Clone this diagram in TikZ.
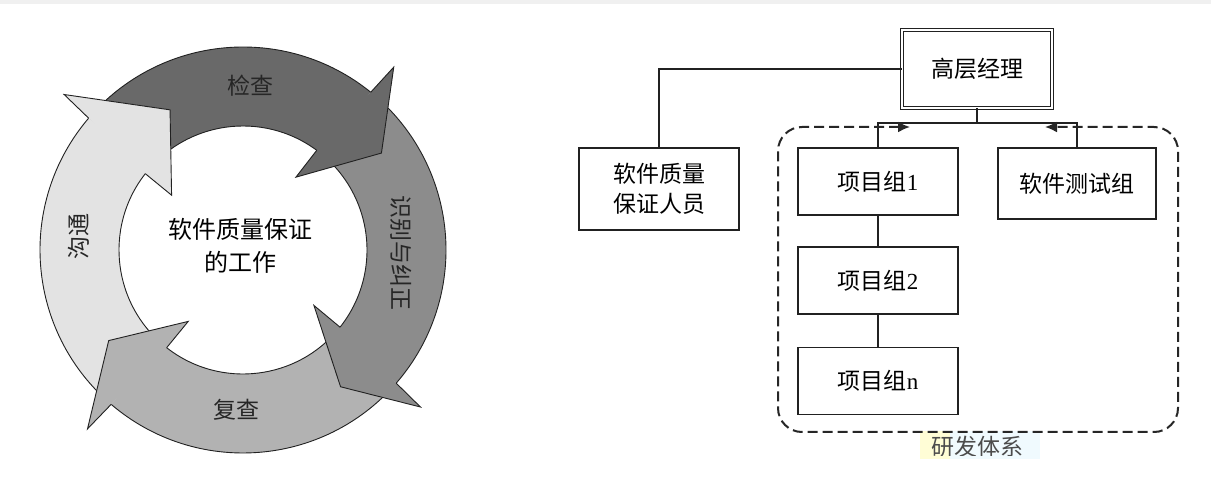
\documentclass[tikz,border=0pt]{standalone}
\usepackage{fontspec}
\setmainfont{Liberation Serif}
\newfontfamily\cjk{Noto Sans CJK SC}
\usetikzlibrary{arrows.meta}

\definecolor{arrDark}{gray}{0.41}
\definecolor{arrRight}{gray}{0.55}
\definecolor{arrBottom}{gray}{0.70}
\definecolor{arrLight}{gray}{0.89}
\definecolor{edge}{gray}{0.13}
\newcommand{\boxnum}[1]{{\rmfamily #1}}

\begin{document}
\begin{tikzpicture}[x=1pt,y=1pt,
  outline/.style={draw=edge, line width=0.9pt, line join=miter},
  box/.style={draw=edge, line width=1.1pt, fill=white, minimum width=160pt,
    minimum height=67pt, align=center, inner sep=0pt,
    font=\fontsize{23}{30}\selectfont\cjk},
  wire/.style={draw=edge, line width=1.1pt},
  lbl/.style={font=\fontsize{23}{26}\selectfont\cjk, text=black!85, inner sep=0pt},
  frame/.style={draw=black!85, line width=2pt, dash pattern=on 10pt off 5pt,
    rounded corners=24pt},
  tip/.style={{Latex[length=12pt,width=11pt]}-{Latex[length=12pt,width=11pt]}}
]
\useasboundingbox (0,0) rectangle (1211,501);
\fill[white] (0,0) rectangle (1211,501);
\fill[gray!12] (0,497) rectangle (1211,501);

% ---- cycle of four arrows ----
\begin{scope}[shift={(243,251)}]
  \def\Ro{203}
  \def\Ri{124}
  % bodies: tail angle / head angle / colour
  \foreach \s/\e/\c in {139.5/51/arrDark, 51/-41/arrRight,
                        -41/-130.5/arrBottom, -130.5/-220.5/arrLight}{
    \fill[\c] (\s:\Ro) arc[start angle=\s, end angle=\e, radius=\Ro]
      -- (\e:\Ri) arc[start angle=\e, end angle=\s, radius=\Ri] -- cycle;
  }
  \foreach \s/\e in {139.5/51, 51/-41, -41/-130.5, -130.5/-220.5}{
    \draw[outline] (\s:\Ro) arc[start angle=\s, end angle=\e, radius=\Ro];
    \draw[outline] (\s:\Ri) arc[start angle=\s, end angle=\e, radius=\Ri];
  }
  % heads: base angle / tip offset / tip radius / colour
  \foreach \a/\ta/\tr/\c in {51/-16/169/arrDark, -41/-13.5/168/arrRight,
                             -130.5/-15.5/162/arrBottom, 139.5/-22/158/arrLight}{
    \fill[\c] (\a:\Ro) -- ({\a-0.5}:237) -- ({\a+(\ta)}:\tr) -- ({\a+3}:90)
      -- ({\a+2.5}:\Ri) -- cycle;
    \draw[outline] (\a:\Ro) -- ({\a-0.5}:237) -- ({\a+(\ta)}:\tr)
      -- ({\a+3}:90) -- ({\a+2.5}:\Ri);
  }
\end{scope}

\node[lbl] (check) at (250,415) {检查};
\node[lbl, rotate=-90] (fix) at (401,248) {识别与纠正};
\node[lbl] (review) at (236,91) {复查};
\node[lbl, rotate=90] (talk) at (79,264) {沟通};
\node[font=\fontsize{24}{33}\selectfont\cjk, align=center, inner sep=0pt]
  (core) at (240,255) {软件质量保证\\的工作};

% ---- organisation chart ----
\fill[yellow!16] (920,42) rectangle (950,70);
\fill[cyan!6] (950,42) rectangle (1040,70);

\node[box, double=white, double distance=2.5pt, line width=0.9pt,
  minimum width=150pt, minimum height=78pt] (gm) at (977,432) {高层经理};
\node[box, minimum height=82pt] (qa) at (659,312) {软件质量\\保证人员};
\node[box] (p1) at (878,319.5) {项目组\boxnum{1}};
\node[box] (p2) at (878,220.5) {项目组\boxnum{2}};
\node[box] (pn) at (878,120) {项目组\boxnum{n}};
\node[box, minimum width=158pt, minimum height=71pt] (qt) at (1077,317.5) {软件测试组};

\coordinate (bus) at (977,378);
\draw[wire] (gm.west) -| (qa.north);
\draw[wire] (gm.south) -- (bus);
\draw[wire] (p1.north) |- (bus) -| (qt.north);
\draw[wire] (p1) -- (p2);
\draw[wire] (p2) -- (pn);

\coordinate (fl) at (910,374);
\coordinate (fr) at (1045,374);
\draw[frame, tip] (fl) -- (778,374) -- (778,69) -- (1178,69) -- (1178,374) -- (fr);

\begin{scope}
  \clip (850,45) rectangle (1100,80);
  \node[lbl, text=black!70] (rnd) at (977,54) {研发体系};
\end{scope}
\end{tikzpicture}
\end{document}
